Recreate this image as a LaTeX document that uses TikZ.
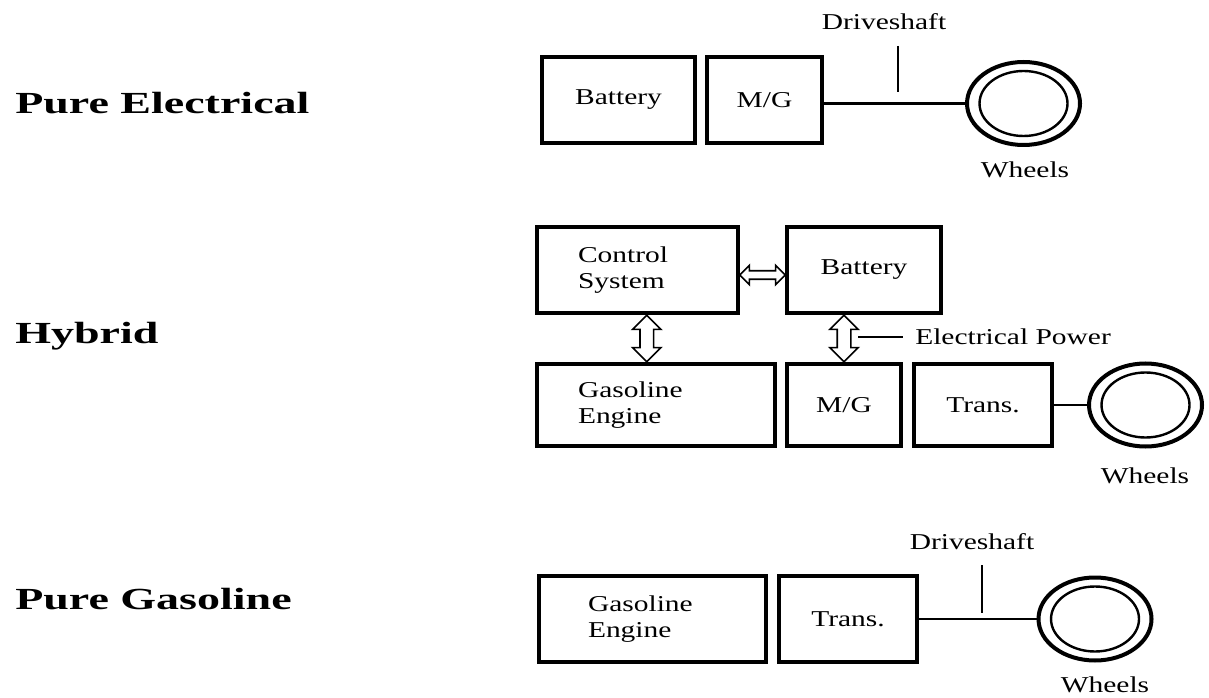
\documentclass[tikz,border=0pt]{standalone}
\usepackage{fontspec}
\setmainfont{Liberation Serif}[FakeStretch=1.3]
\newfontfamily\sidefont{Liberation Serif}[FakeStretch=1.5]
\usetikzlibrary{calc}
\usetikzlibrary{shapes,shapes.arrows}
\tikzstyle{blk} = [draw, line width=2.4pt, shape=rectangle, minimum height=64.5pt, inner sep=0pt, font=\fontsize{17}{19.5}\selectfont]
\tikzstyle{whl} = [draw, line width=3pt, shape=ellipse, minimum width=84.75pt, minimum height=62.25pt, inner sep=0pt]
\tikzstyle{whlin} = [draw, line width=1.8pt, shape=ellipse, minimum width=66pt, minimum height=48.75pt, inner sep=0pt]
\tikzstyle{shft} = [style={line width=2pt}]
\tikzstyle{dsln} = [style={line width=2.2pt}]
\tikzstyle{lead} = [style={line width=1.5pt}]
\tikzstyle{lbl} = [inner sep=0pt, font=\fontsize{17}{19.5}\selectfont]
\tikzstyle{side} = [inner sep=0pt, anchor=base west, font={\sidefont\fontsize{23}{27}\selectfont\bfseries}]
\tikzstyle{dblh} = [draw, fill=white, line width=1.2pt, shape=double arrow, inner sep=0pt, inner ysep=2.6pt, double arrow head extend=4pt, minimum height=34pt]
\tikzstyle{dblv} = [draw, fill=white, line width=1.2pt, shape=double arrow, inner sep=0pt, inner ysep=4.5pt, double arrow head extend=5.6pt, minimum height=35pt, rotate=90]

\begin{document}
\begin{tikzpicture}[x=0.75pt,y=-0.75pt]
        \useasboundingbox (0,0) rectangle (1209,698);
        % pure electrical
        \node[side] (pe) at (15,114) {Pure Electrical};
        \node[blk, minimum width=114.75pt] (bat1) at (618.5,100) {Battery};
        \node[blk, minimum width=86.25pt] (mg1) at (764.5,100) {M/G};
        \node[whl] (w1) at (1023.5,103.5) {};
        \node[whlin] (w1in) at (w1) {};
        \draw[shft] (w1.west) -- (w1.west -| mg1.east);
        \node[lbl] (ds1) at (884,22) {Driveshaft};
        \coordinate (ds1a) at (898,46);
        \coordinate (ds1b) at (898,92);
        \draw[dsln] (ds1a) -- (ds1b);
        \node[lbl] (wh1) at (1025,170) {Wheels};
        % hybrid
        \node[side] (hy) at (15,344) {Hybrid};
        \node[blk, minimum width=150.75pt, text width=89.25pt, inner xsep=30.75pt, align=left] (ctrl) at (637.5,270) {Control\\System};
        \node[blk, minimum width=115.5pt] (bat2) at (864,270) {Battery};
        \node[blk, minimum width=178.5pt, minimum height=61.5pt, text width=117pt, inner xsep=30.75pt, align=left] (geng2) at (656,405) {Gasoline\\Engine};
        \node[blk, minimum width=85.5pt, minimum height=61.5pt] (mg2) at (844,405) {M/G};
        \node[blk, minimum width=103.5pt, minimum height=61.5pt] (tr2) at (983,405) {Trans.};
        \node[whl] (w2) at (1145.5,405) {};
        \node[whlin] (w2in) at (w2) {};
        \draw[shft] (tr2.east) -- (w2.west);
        \node[dblh] (a1) at ($(ctrl.east)!0.5!(bat2.west)+(0,5)$) {};
        \node[dblv] (a2) at ($(ctrl.south)!0.5!(geng2.north)$) {};
        \node[dblv] (a3) at ($(mg2.north)!0.5!(mg2.north |- bat2.south)$) {};
        \node[lbl, anchor=west] (elp) at (915,337) {Electrical Power};
        \coordinate (ep) at (858,337);
        \draw[lead] (ep) -- ([xshift=-9pt]elp.west);
        \node[lbl] (wh2) at (1145,476) {Wheels};
        % pure gasoline
        \node[side] (pg) at (15,609) {Pure Gasoline};
        \node[blk, minimum width=170.25pt, text width=96.75pt, inner xsep=36.75pt, align=left] (geng3) at (652.5,619) {Gasoline\\Engine};
        \node[blk, minimum width=103.5pt] (tr3) at (848,619) {Trans.};
        \node[whl] (w3) at (1095,619) {};
        \node[whlin] (w3in) at (w3) {};
        \draw[shft] (tr3.east) -- (w3.west);
        \node[lbl] (ds3) at (972,542) {Driveshaft};
        \coordinate (ds3a) at (982,565);
        \coordinate (ds3b) at (982,613);
        \draw[dsln] (ds3a) -- (ds3b);
        \node[lbl] (wh3) at (1105,685) {Wheels};
      \end{tikzpicture}
\end{document}
